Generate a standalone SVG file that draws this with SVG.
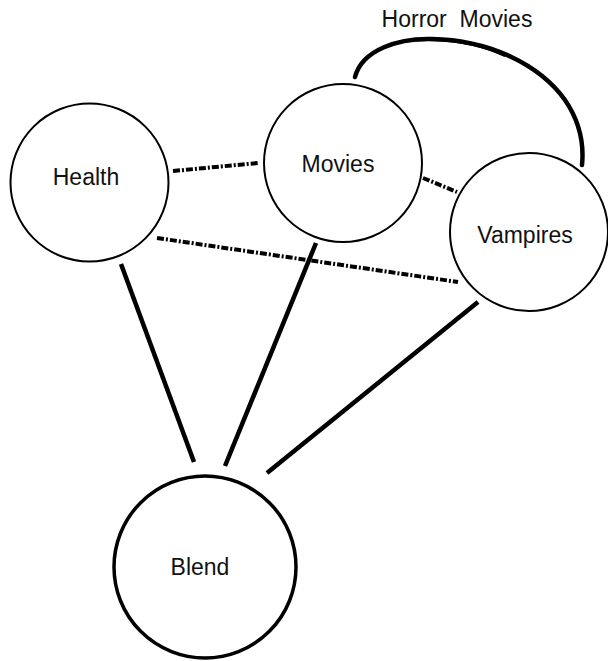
<svg xmlns="http://www.w3.org/2000/svg" width="608" height="661" viewBox="0 0 608 661">
<style>
.node circle{fill:#fff;stroke:#000;stroke-width:2}
.lbl{font-family:"Liberation Sans",Arial,sans-serif;font-size:23px;fill:#111;text-anchor:middle}
.solid{stroke:#000;stroke-width:4.5;fill:none;stroke-linecap:butt}
.dd{stroke:#000;stroke-width:4;fill:none;stroke-dasharray:7 2 2 2}
.arc{stroke:#000;stroke-width:4.5;fill:none;stroke-linecap:round}
</style>
<rect width="608" height="661" fill="#fff"/>
<g id="connectors">
<line class="dd" x1="173" y1="171" x2="258" y2="163"/>
<line class="dd" x1="423" y1="178" x2="457" y2="192"/>
<line class="dd" x1="157" y1="238" x2="458" y2="282"/>
<line class="solid" x1="121" y1="264" x2="194" y2="462"/>
<line class="solid" x1="316" y1="243" x2="225" y2="466"/>
<line class="solid" x1="478" y1="302" x2="267" y2="473"/>
<path class="arc" d="M355,77 C362,50 398,38 432,39 C490,40 540,65 565,100 C580,122 584,145 582,165"/>
<path d="M400,42 C440,36 480,44 505,56" stroke="#000" stroke-width="2" fill="none"/>
<text class="lbl" x="457" y="27" xml:space="preserve" style="white-space:pre">Horror  Movies</text>
</g>
<g id="health" class="node"><circle cx="89.5" cy="182.5" r="79"/><text class="lbl" x="86" y="185">Health</text></g>
<g id="movies" class="node"><circle cx="343" cy="163" r="79"/><text class="lbl" x="338" y="172">Movies</text></g>
<g id="vampires" class="node"><circle cx="529" cy="232" r="79"/><text class="lbl" x="525" y="243">Vampires</text></g>
<g id="blend" class="node"><circle cx="205" cy="567" r="91" style="stroke-width:3.5"/><text class="lbl" x="200" y="575">Blend</text></g>
</svg>
